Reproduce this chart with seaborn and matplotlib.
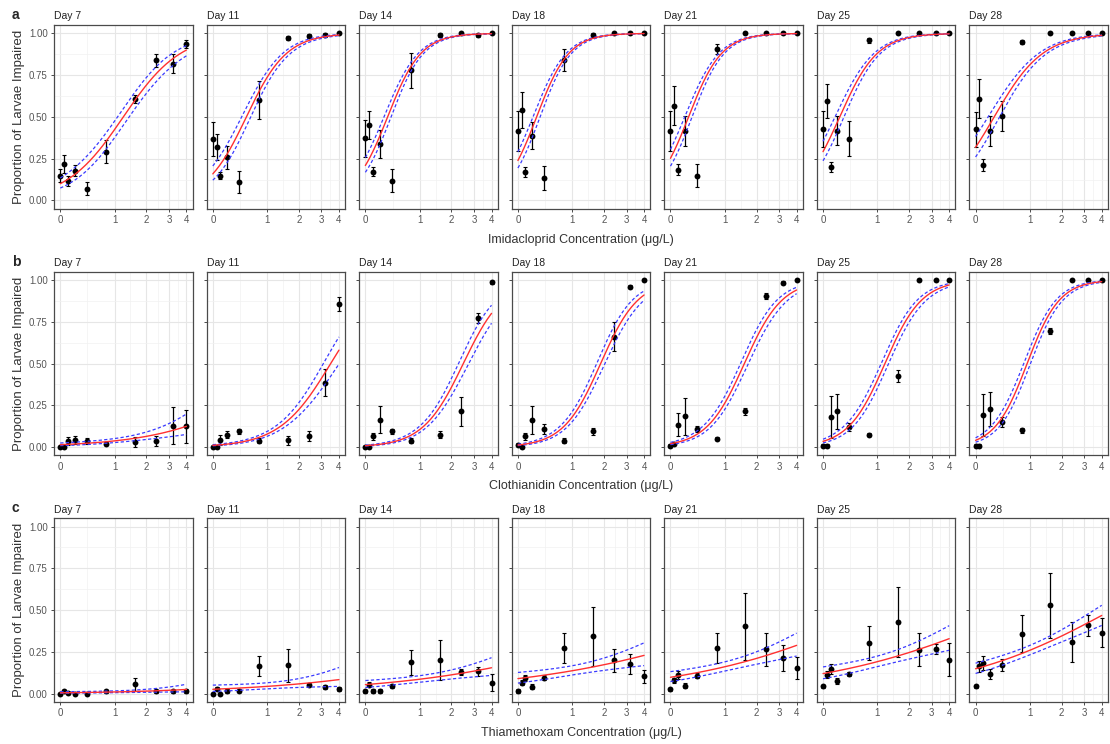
import numpy as np
import matplotlib
matplotlib.use('Agg')
import matplotlib.pyplot as plt
import seaborn as sns

# concentrations (ug/L) and sampling days
conc = [0, 0.05, 0.1, 0.2, 0.4, 0.8, 1.6, 2.4, 3.2, 4.0]
days = ['Day 7', 'Day 11', 'Day 14', 'Day 18', 'Day 21', 'Day 25', 'Day 28']

# a - Imidacloprid: mean proportion impaired and standard error, one list per day
imi_mean = [
    [0.149, 0.217, 0.119, 0.179, 0.070, 0.292, 0.606, 0.839, 0.819, 0.938],
    [0.368, 0.318, 0.149, 0.258, 0.109, 0.602, 0.974, 0.984, 0.990, 1.000],
    [0.372, 0.451, 0.173, 0.338, 0.119, 0.779, 0.990, 1.000, 0.988, 1.000],
    [0.417, 0.543, 0.169, 0.388, 0.133, 0.839, 0.990, 1.000, 1.000, 1.000],
    [0.417, 0.567, 0.185, 0.417, 0.149, 0.905, 1.000, 1.000, 1.000, 1.000],
    [0.427, 0.596, 0.199, 0.417, 0.368, 0.960, 1.000, 1.000, 1.000, 1.000],
    [0.427, 0.610, 0.213, 0.417, 0.503, 0.948, 1.000, 1.000, 1.000, 1.000],
]
imi_se = [
    [0.040, 0.055, 0.030, 0.030, 0.040, 0.070, 0.022, 0.040, 0.055, 0.023],
    [0.100, 0.078, 0.020, 0.070, 0.065, 0.115, 0.012, 0.012, 0.010, 0.000],
    [0.110, 0.085, 0.028, 0.085, 0.070, 0.105, 0.010, 0.000, 0.010, 0.000],
    [0.120, 0.107, 0.030, 0.080, 0.072, 0.067, 0.010, 0.000, 0.000, 0.000],
    [0.120, 0.115, 0.030, 0.090, 0.070, 0.030, 0.000, 0.000, 0.000, 0.000],
    [0.110, 0.100, 0.030, 0.087, 0.105, 0.015, 0.000, 0.000, 0.000, 0.000],
    [0.105, 0.117, 0.035, 0.090, 0.090, 0.010, 0.000, 0.000, 0.000, 0.000],
]
# fitted curve: proportion at 0 and at 4 ug/L, CI half width on logit scale
imi_fit0 = [0.100, 0.159, 0.209, 0.239, 0.252, 0.292, 0.318]
imi_fit4 = [0.900, 0.990, 0.998, 0.9987, 0.9985, 0.997, 0.988]
imi_ci = [0.20, 0.19, 0.16, 0.16, 0.16, 0.17, 0.17]

# b - Clothianidin
clo_mean = [
    [0.000, 0.000, 0.038, 0.044, 0.036, 0.020, 0.032, 0.038, 0.127, 0.124],
    [0.000, 0.000, 0.044, 0.074, 0.094, 0.038, 0.040, 0.064, 0.386, 0.857],
    [0.000, 0.000, 0.064, 0.163, 0.094, 0.038, 0.074, 0.213, 0.771, 0.986],
    [0.014, 0.000, 0.064, 0.163, 0.108, 0.038, 0.094, 0.661, 0.960, 1.000],
    [0.008, 0.020, 0.133, 0.183, 0.108, 0.050, 0.213, 0.904, 0.984, 1.000],
    [0.008, 0.008, 0.179, 0.213, 0.120, 0.074, 0.426, 1.000, 1.000, 1.000],
    [0.008, 0.008, 0.193, 0.227, 0.147, 0.100, 0.695, 1.000, 1.000, 1.000],
]
clo_se = [
    [0.000, 0.000, 0.025, 0.025, 0.017, 0.010, 0.030, 0.030, 0.110, 0.100],
    [0.000, 0.000, 0.030, 0.020, 0.015, 0.015, 0.025, 0.030, 0.080, 0.040],
    [0.000, 0.000, 0.020, 0.080, 0.015, 0.015, 0.022, 0.085, 0.030, 0.010],
    [0.010, 0.000, 0.020, 0.085, 0.030, 0.015, 0.022, 0.088, 0.010, 0.000],
    [0.008, 0.010, 0.068, 0.110, 0.020, 0.010, 0.020, 0.020, 0.010, 0.000],
    [0.008, 0.008, 0.125, 0.105, 0.023, 0.010, 0.035, 0.000, 0.000, 0.000],
    [0.008, 0.008, 0.127, 0.100, 0.030, 0.015, 0.020, 0.000, 0.000, 0.000],
]
clo_fit0 = [0.014, 0.010, 0.008, 0.012, 0.020, 0.034, 0.040]
clo_fit4 = [0.124, 0.580, 0.800, 0.910, 0.940, 0.970, 0.990]
clo_ci = [0.33, 0.20, 0.20, 0.20, 0.20, 0.20, 0.20]

# c - Thiamethoxam
thi_mean = [
    [0.000, 0.014, 0.004, 0.000, 0.000, 0.014, 0.056, 0.014, 0.014, 0.016],
    [0.000, 0.030, 0.000, 0.016, 0.018, 0.165, 0.169, 0.054, 0.040, 0.028],
    [0.014, 0.054, 0.016, 0.016, 0.046, 0.189, 0.200, 0.130, 0.133, 0.066],
    [0.016, 0.066, 0.094, 0.040, 0.094, 0.273, 0.343, 0.200, 0.177, 0.104],
    [0.026, 0.080, 0.110, 0.046, 0.106, 0.273, 0.402, 0.265, 0.213, 0.153],
    [0.044, 0.114, 0.149, 0.076, 0.118, 0.303, 0.428, 0.263, 0.269, 0.203],
    [0.044, 0.163, 0.183, 0.120, 0.173, 0.359, 0.528, 0.309, 0.408, 0.365],
]
thi_se = [
    [0.000, 0.010, 0.004, 0.000, 0.000, 0.008, 0.040, 0.010, 0.008, 0.010],
    [0.000, 0.010, 0.000, 0.010, 0.010, 0.060, 0.100, 0.010, 0.010, 0.010],
    [0.008, 0.015, 0.010, 0.010, 0.012, 0.075, 0.120, 0.020, 0.025, 0.050],
    [0.010, 0.015, 0.020, 0.015, 0.015, 0.088, 0.175, 0.070, 0.060, 0.040],
    [0.010, 0.015, 0.025, 0.015, 0.015, 0.090, 0.200, 0.100, 0.080, 0.065],
    [0.010, 0.020, 0.030, 0.020, 0.010, 0.100, 0.210, 0.100, 0.030, 0.100],
    [0.010, 0.035, 0.040, 0.030, 0.035, 0.110, 0.195, 0.120, 0.064, 0.085],
]
thi_fit0 = [0.005, 0.026, 0.054, 0.090, 0.098, 0.120, 0.149]
thi_fit4 = [0.025, 0.084, 0.155, 0.229, 0.289, 0.329, 0.468]
thi_ci = [0.50, 0.42, 0.24, 0.23, 0.20, 0.20, 0.145]

rows = [
    ('a', 'Imidacloprid Concentration (\u03bcg/L)', imi_mean, imi_se, imi_fit0, imi_fit4, imi_ci),
    ('b', 'Clothianidin Concentration (\u03bcg/L)', clo_mean, clo_se, clo_fit0, clo_fit4, clo_ci),
    ('c', 'Thiamethoxam Concentration (\u03bcg/L)', thi_mean, thi_se, thi_fit0, thi_fit4, thi_ci),
]

sns.set_style('ticks')
plt.rcParams['font.family'] = ['Liberation Sans', 'DejaVu Sans']


def logit(p):
    p = np.asarray(p, dtype=float)
    return np.log(p / (1 - p))


def expit(z):
    return 1 / (1 + np.exp(-z))


W, H = 1110, 744
fig, axes = plt.subplots(3, 7, figsize=(W / 100, H / 100), dpi=100, sharey=True)
fig.subplots_adjust(left=54 / W, right=1108 / W, top=1 - 25 / H, bottom=1 - 702 / H,
                    wspace=0.10, hspace=0.342)

tmax = np.log1p(4)
tt = np.linspace(0, tmax, 150)
xx = np.expm1(tt)
major_t = np.log1p([0, 1, 2, 3, 4])
minor_x = np.expm1((major_t[:-1] + major_t[1:]) / 2)

label_y = [15, 262, 508]
title_y = [240, 486, 733]

for r, (tag, xtitle, mean, se, fit0, fit4, ci) in enumerate(rows):
    for c, day in enumerate(days):
        ax = axes[r, c]
        ax.set_xscale('function', functions=(np.log1p, np.expm1))

        # fitted logistic curve and confidence band
        z = logit(fit0[c]) + (logit(fit4[c]) - logit(fit0[c])) * tt / tmax
        w = ci[c] * np.sqrt(1 + ((tt - 0.8) / 0.6) ** 2)

        ax.errorbar(conc, mean[c], yerr=se[c], fmt='none', ecolor='black',
                    elinewidth=0.9, capsize=1.6, capthick=0.8, zorder=3)
        sns.scatterplot(x=conc, y=mean[c], ax=ax, color='black', s=18,
                        edgecolor='black', linewidth=0, zorder=4)
        sns.lineplot(x=xx, y=expit(z + w), ax=ax, color='#3a3aff', lw=0.9,
                     linestyle=(0, (2.6, 1.8)), zorder=5)
        sns.lineplot(x=xx, y=expit(z - w), ax=ax, color='#3a3aff', lw=0.9,
                     linestyle=(0, (2.6, 1.8)), zorder=5)
        sns.lineplot(x=xx, y=expit(z), ax=ax, color='#ff3030', lw=1.0, zorder=6)

        ax.set_xlim(np.expm1(-0.08), np.expm1(tmax + 0.08))
        ax.set_ylim(-0.05, 1.05)
        ax.set_xticks([0, 1, 2, 3, 4])
        ax.set_xticklabels(['0', '1', '2', '3', '4'])
        ax.set_xticks(minor_x, minor=True)
        ax.set_yticks([0, 0.25, 0.5, 0.75, 1.0])
        ax.set_yticklabels(['0.00', '0.25', '0.50', '0.75', '1.00'])
        ax.set_yticks([0.125, 0.375, 0.625, 0.875], minor=True)

        ax.grid(which='major', color='#e6e6e6', lw=0.8)
        ax.grid(which='minor', color='#f1f1f1', lw=0.5)
        ax.set_axisbelow(True)
        for s in ax.spines.values():
            s.set_visible(True)
            s.set_color('#4a4a4a')
            s.set_linewidth(0.9)
        ax.tick_params(which='major', length=2.5, width=0.7, color='#4a4a4a',
                       labelsize=7, labelcolor='#555555', pad=2)
        ax.tick_params(which='minor', length=0)
        ax.set_xlabel('')
        ax.set_title(day, loc='left', fontsize=7.5, pad=4, color='#222222')
        if c == 0:
            ax.set_ylabel('Proportion of Larvae Impaired', fontsize=9.5,
                          color='#333333', labelpad=3)
        else:
            ax.set_ylabel('')

    fig.text(12 / W, 1 - label_y[r] / H, tag, fontsize=10, fontweight='bold',
             ha='left', va='center')
    fig.text(581 / W, 1 - title_y[r] / H, xtitle, fontsize=9, color='#333333',
             ha='center', va='center')

fig.savefig('out.png', dpi=100, facecolor='white')
